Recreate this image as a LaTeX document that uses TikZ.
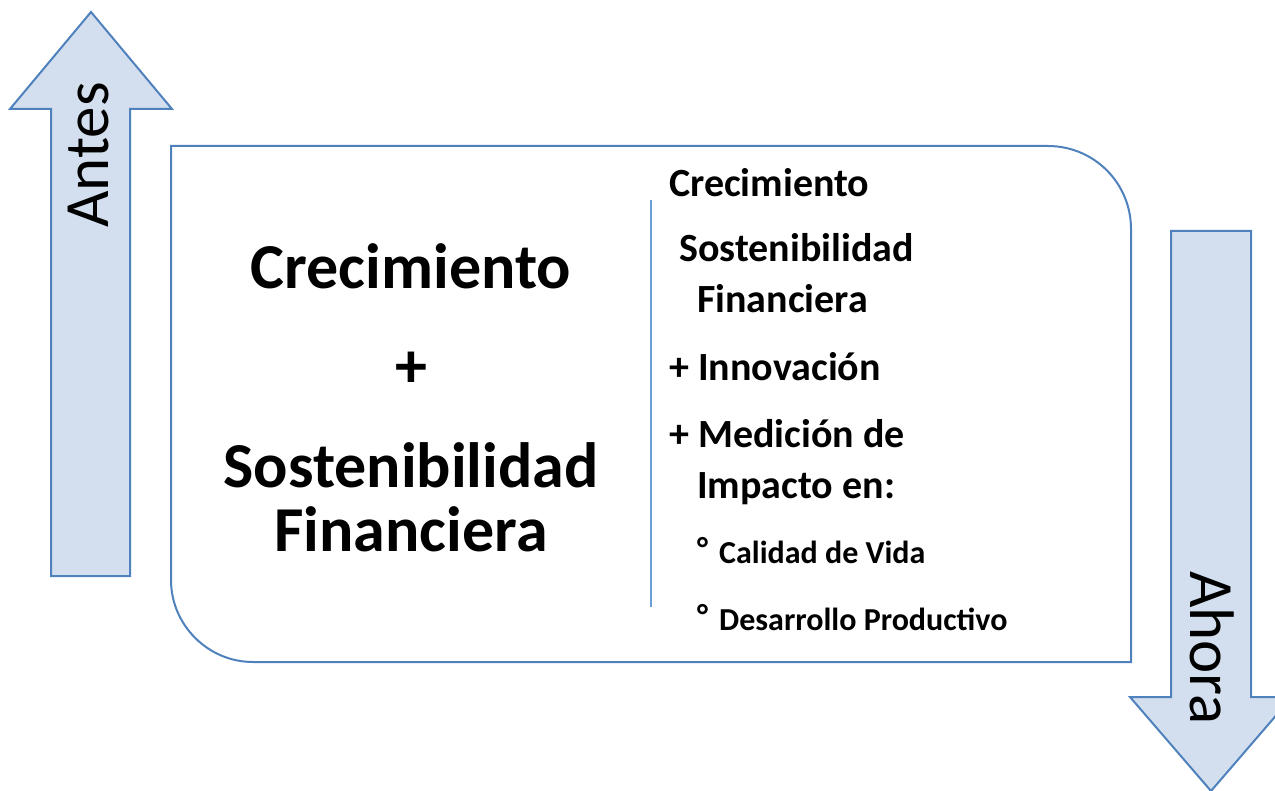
\documentclass[tikz,border=0pt]{standalone}
\usepackage{fontspec}
\setmainfont{Carlito}
\definecolor{edgeblue}{RGB}{79,129,189}
\definecolor{fillblue}{RGB}{211,223,238}
\definecolor{divblue}{RGB}{106,160,218}
\tikzset{
  arrowshape/.style={draw=edgeblue, fill=fillblue, line width=2pt, line join=miter},
  framebox/.style={draw=edgeblue, line width=2pt},
  bigtxt/.style={inner sep=0pt, font=\fontsize{64}{72}\selectfont\bfseries},
  midtxt/.style={inner sep=0pt, anchor=base west, font=\fontsize{40}{46}\selectfont\bfseries},
  smalltxt/.style={inner sep=0pt, anchor=base west, font=\fontsize{32}{38}\selectfont\bfseries},
  arrowtxt/.style={inner sep=0pt, font=\fontsize{63}{70}\selectfont}
}
\begin{document}
\begin{tikzpicture}[x=1pt,y=-1pt]
\useasboundingbox (0,0) rectangle (1275,791);
\clip (0,0) rectangle (1275,791);
% up arrow (Antes)
\draw[arrowshape] (91,12) -- (172,109) -- (130,109) -- (130,576) -- (51,576) -- (51,109) -- (10,109) -- cycle;
% down arrow (Ahora)
\draw[arrowshape] (1171,231) -- (1251,231) -- (1251,697) -- (1292,697) -- (1211,791) -- (1130,697) -- (1171,697) -- cycle;
% main frame
\draw[framebox] (171,146) -- (1048,146) .. controls (1094,146) and (1131,183) .. (1131,229)
  -- (1131,662) -- (253,662) .. controls (208,662) and (171,625) .. (171,580) -- cycle;
% divider
\coordinate (dtop) at (651,200);
\coordinate (dbot) at (651,607);
\draw[divblue, line width=2pt] (dtop) -- (dbot);
% arrow labels
\node[arrowtxt, rotate=90] (antes) at (89,155) {Antes};
\node[arrowtxt, rotate=-90] (ahora) at (1212,648) {Ahora};
% left block
\node[bigtxt, anchor=base] (l1) at (411,289) {Crecimiento};
\node[bigtxt] (l2) at (411,370) {+};
\node[bigtxt, anchor=base] (l3) at (411,488) {Sostenibilidad};
\node[bigtxt, anchor=base] (l4) at (411,551) {Financiera};
% right block
\node[midtxt] (r1) at (669,197) {Crecimiento};
\node[midtxt] (r2) at (679,262) {Sostenibilidad};
\node[midtxt] (r3) at (697,313) {Financiera};
\node[midtxt] (r4) at (669,381) {+ Innovación};
\node[midtxt] (r5) at (669,448) {+ Medición de};
\node[midtxt] (r6) at (697,498) {Impacto en:};
\node[smalltxt] (d1) at (697,559) {°};
\node[smalltxt] (r7) at (719,563) {Calidad de Vida};
\node[smalltxt] (d2) at (697,626) {°};
\node[smalltxt] (r8) at (719,630) {Desarrollo Productivo};
\end{tikzpicture}
\end{document}
